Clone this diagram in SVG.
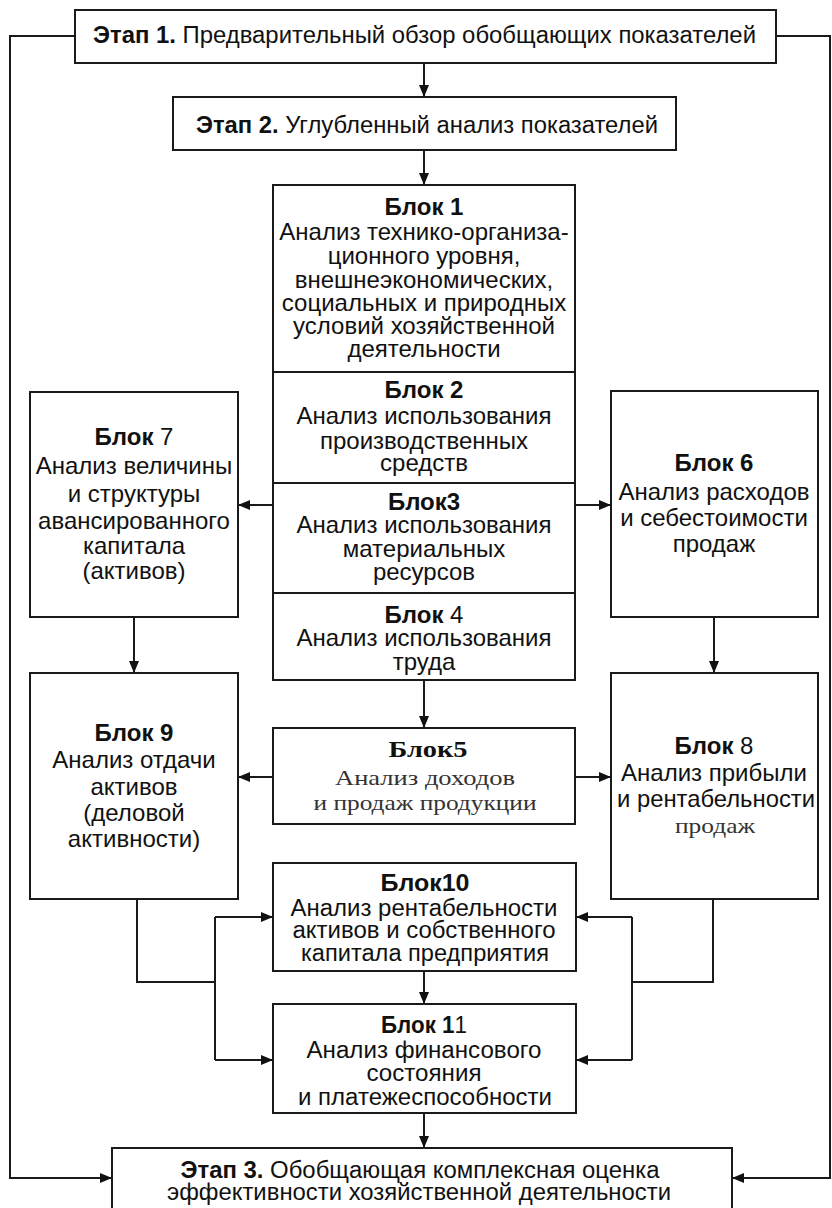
<svg xmlns="http://www.w3.org/2000/svg" width="832" height="1208" viewBox="0 0 832 1208">
<defs>
<marker id="ah" markerWidth="12" markerHeight="10" refX="12" refY="5" orient="auto" markerUnits="userSpaceOnUse">
<path d="M0,0 L12,5 L0,10 Z" fill="#111"/>
</marker>
<style>
.box{fill:#fff;stroke:#1a1a1a;stroke-width:2}
.ln{fill:none;stroke:#1a1a1a;stroke-width:2}
.ar{fill:none;stroke:#1a1a1a;stroke-width:2;marker-end:url(#ah)}
text{font-family:"Liberation Sans",Arial,sans-serif;font-size:24px;fill:#111;text-anchor:middle}
.n{font-size:23px}
.b{font-weight:bold}
.s{font-family:"Liberation Serif","Times New Roman",serif;font-size:22px;fill:#333}
.sb{font-family:"Liberation Serif","Times New Roman",serif;font-size:24px;font-weight:bold;fill:#111}
</style>
</defs>
<rect width="832" height="1208" fill="#fff"/>

<g id="connectors">
<path class="ar" d="M424,63 V97"/>
<path class="ar" d="M424,150 V185"/>
<path class="ar" d="M273,505 H238"/>
<path class="ar" d="M575,505 H611"/>
<path class="ar" d="M134,617 V673"/>
<path class="ar" d="M714,617 V673"/>
<path class="ar" d="M424,680 V728"/>
<path class="ar" d="M273,777 H238"/>
<path class="ar" d="M575,777 H611"/>
<path class="ln" d="M137,899 V982 H215"/>
<path class="ln" d="M215,917 V1060"/>
<path class="ar" d="M215,917 H273"/>
<path class="ar" d="M215,1060 H273"/>
<path class="ln" d="M713,899 V982 H632"/>
<path class="ln" d="M632,917 V1060"/>
<path class="ar" d="M632,917 H576"/>
<path class="ar" d="M632,1060 H576"/>
<path class="ar" d="M424,971 V1004"/>
<path class="ar" d="M424,1113 V1148"/>
<path class="ar" d="M75,36 H10 V1178 H112"/>
<path class="ar" d="M776,36 H830 V1178 H732"/>
</g>

<g id="stage1">
<rect class="box" x="75" y="10" width="701" height="53"/>
<text class="n" x="424.5" y="43" textLength="663" lengthAdjust="spacingAndGlyphs"><tspan class="b">Этап 1.</tspan> Предварительный обзор обобщающих показателей</text>
</g>

<g id="stage2">
<rect class="box" x="173" y="97" width="503" height="53"/>
<text class="n" x="427" y="133" textLength="462" lengthAdjust="spacingAndGlyphs"><tspan class="b">Этап 2.</tspan> Углубленный анализ показателей</text>
</g>

<g id="block1">
<rect class="box" x="273" y="185" width="302" height="187"/>
<text class="b" x="424" y="215">Блок 1</text>
<text x="424" y="240">Анализ технико-организа-</text>
<text x="424" y="264">ционного уровня,</text>
<text x="424" y="288">внешнеэкономических,</text>
<text x="424" y="311">социальных и природных</text>
<text x="424" y="334">условий хозяйственной</text>
<text x="424" y="357">деятельности</text>
</g>

<g id="block2">
<rect class="box" x="273" y="372" width="302" height="111"/>
<text class="b" x="424" y="398">Блок 2</text>
<text x="424" y="424">Анализ  использования</text>
<text x="424" y="449">производственных</text>
<text x="424" y="471">средств</text>
</g>

<g id="block3">
<rect class="box" x="273" y="483" width="302" height="110"/>
<text class="b" x="424" y="510">Блок3</text>
<text x="424" y="533">Анализ  использования</text>
<text x="424" y="557">материальных</text>
<text x="424" y="580">ресурсов</text>
</g>

<g id="block4">
<rect class="box" x="273" y="593" width="302" height="87"/>
<text x="424" y="623"><tspan class="b">Блок</tspan> 4</text>
<text x="424" y="646">Анализ  использования</text>
<text x="424" y="670">труда</text>
</g>

<g id="block7">
<rect class="box" x="30" y="392" width="208" height="225"/>
<text x="134" y="445"><tspan class="b">Блок</tspan> 7</text>
<text x="134" y="474">Анализ  величины</text>
<text x="134" y="502">и структуры</text>
<text x="134" y="529">авансированного</text>
<text x="134" y="554">капитала</text>
<text x="134" y="579">(активов)</text>
</g>

<g id="block6">
<rect class="box" x="611" y="391" width="207" height="226"/>
<text class="b" x="714" y="471">Блок 6</text>
<text x="714" y="500">Анализ  расходов</text>
<text x="714" y="526">и себестоимости</text>
<text x="714" y="552">продаж</text>
</g>

<g id="block9">
<rect class="box" x="30" y="673" width="208" height="226"/>
<text class="b" x="134" y="741">Блок 9</text>
<text x="134" y="768">Анализ  отдачи</text>
<text x="134" y="795">активов</text>
<text x="134" y="821">(деловой</text>
<text x="134" y="847">активности)</text>
</g>

<g id="block5">
<rect class="box" x="273" y="728" width="302" height="96"/>
<text class="sb" x="428" y="757" textLength="79" lengthAdjust="spacingAndGlyphs">Блок5</text>
<text class="s" x="425" y="785" textLength="180" lengthAdjust="spacingAndGlyphs">Анализ доходов</text>
<text class="s" x="425" y="810" textLength="223" lengthAdjust="spacingAndGlyphs">и продаж продукции</text>
</g>

<g id="block8">
<rect class="box" x="611" y="673" width="207" height="226"/>
<text x="714" y="754"><tspan class="b">Блок</tspan> 8</text>
<text x="714" y="781">Анализ  прибыли</text>
<text x="716" y="807" textLength="198" lengthAdjust="spacingAndGlyphs">и  рентабельности</text>
<text class="s" x="715" y="833" textLength="80" lengthAdjust="spacingAndGlyphs">продаж</text>
</g>

<g id="block10">
<rect class="box" x="273" y="863" width="303" height="108"/>
<text class="b n" x="425" y="891" textLength="89" lengthAdjust="spacingAndGlyphs">Блок10</text>
<text class="n" x="424" y="916" textLength="267" lengthAdjust="spacingAndGlyphs">Анализ  рентабельности</text>
<text class="n" x="424" y="938" textLength="263" lengthAdjust="spacingAndGlyphs">активов и собственного</text>
<text class="n" x="425" y="961" textLength="248" lengthAdjust="spacingAndGlyphs">капитала  предприятия</text>
</g>

<g id="block11">
<rect class="box" x="273" y="1004" width="303" height="109"/>
<text class="n" x="424" y="1033" textLength="86" lengthAdjust="spacingAndGlyphs"><tspan class="b">Блок 1</tspan>1</text>
<text class="n" x="424" y="1058" textLength="235" lengthAdjust="spacingAndGlyphs">Анализ финансового</text>
<text class="n" x="424" y="1081" textLength="115" lengthAdjust="spacingAndGlyphs">состояния</text>
<text class="n" x="425" y="1105" textLength="254" lengthAdjust="spacingAndGlyphs">и платежеспособности</text>
</g>

<g id="stage3">
<rect class="box" x="112" y="1148" width="620" height="70"/>
<text class="n" x="420" y="1178" textLength="479" lengthAdjust="spacingAndGlyphs"><tspan class="b">Этап 3.</tspan> Обобщающая комплексная оценка</text>
<text class="n" x="419" y="1200" textLength="504" lengthAdjust="spacingAndGlyphs">эффективности хозяйственной деятельности</text>
</g>
</svg>
